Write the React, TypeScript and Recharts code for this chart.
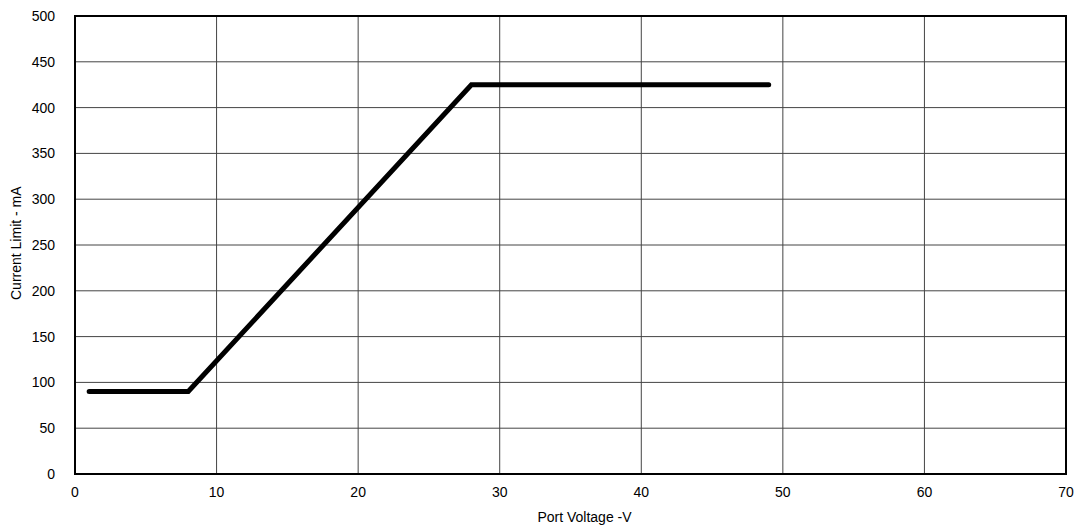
import React from "react";
import { LineChart, Line, XAxis, YAxis, CartesianGrid, ReferenceArea } from "recharts";

const voltage = [1, 8, 28, 49];
const currentLimit = [90, 90, 425, 425];
const xTicks = [0, 10, 20, 30, 40, 50, 60, 70];
const yTicks = [0, 50, 100, 150, 200, 250, 300, 350, 400, 450, 500];

const data = voltage.map((v, i) => ({ v, mA: currentLimit[i] }));

const font = "'Liberation Sans', Arial, sans-serif";

export default function App() {
  return (
    // pinned to the page corner so the body margin doesn't shift it
    <div style={{ position: "absolute", left: 0, top: 0, width: 1076, height: 529, background: "#fff", fontFamily: font }}>
      <LineChart width={1076} height={529} data={data} margin={{ top: 16, right: 10, left: 15, bottom: 22 }}>
        <CartesianGrid stroke="#444" strokeWidth={1} />
        <XAxis
          dataKey="v"
          type="number"
          domain={[0, 70]}
          ticks={xTicks}
          tickLine={false}
          axisLine={false}
          tick={{ fill: "#000", fontSize: 14, fontFamily: font }}
          tickMargin={7}
          height={33}
          label={{ value: "Port Voltage -V", position: "insideBottom", offset: -15, dx: 14, fill: "#000", fontSize: 14, fontFamily: font }}
        />
        <YAxis
          type="number"
          domain={[0, 500]}
          ticks={yTicks}
          tickLine={false}
          axisLine={false}
          tick={{ fill: "#000", fontSize: 14, fontFamily: font }}
          tickMargin={14}
          width={60}
          label={{ value: "Current Limit - mA", angle: -90, position: "insideLeft", offset: 1, dy: 55, fill: "#000", fontSize: 14, fontFamily: font }}
        />
        {/* plot frame */}
        <ReferenceArea x1={0} x2={70} y1={0} y2={500} fill="none" stroke="#000" strokeWidth={2} ifOverflow="visible" />
        <Line
          dataKey="mA"
          stroke="#000"
          strokeWidth={5}
          dot={false}
          strokeLinecap="round"
          strokeLinejoin="miter"
          isAnimationActive={false}
        />
      </LineChart>
    </div>
  );
}
